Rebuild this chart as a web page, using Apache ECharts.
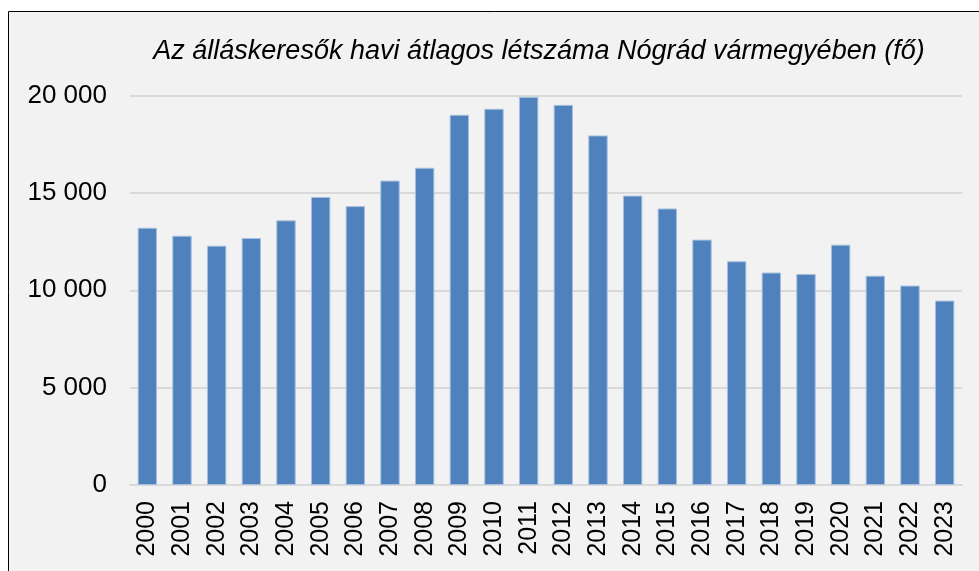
<!DOCTYPE html>
<html>
<head>
<meta charset="utf-8">
<script src="https://cdn.jsdelivr.net/npm/echarts@6/dist/echarts.min.js"></script>
<style>
  html, body { margin: 0; padding: 0; background: #fff; }
  #chart { width: 979px; height: 571px; }
</style>
</head>
<body>
<div id="chart"></div>
<script>
'use strict';

// évek és havi átlagos álláskeresők (fő)
let years = ['2000','2001','2002','2003','2004','2005','2006','2007','2008','2009','2010','2011',
             '2012','2013','2014','2015','2016','2017','2018','2019','2020','2021','2022','2023'];
let jobSeekers = [13210, 12800, 12290, 12680, 13590, 14790, 14320, 15630, 16290, 19010, 19320, 19930,
                  19520, 17950, 14860, 14200, 12600, 11490, 10910, 10840, 12340, 10750, 10240, 9470];
let yTicks = [0, 5000, 10000, 15000, 20000];

let chartTitle = 'Az álláskeresők havi átlagos létszáma Nógrád vármegyében (fő)';

let fmt = function(v){
	return String(v).replace(/\B(?=(\d{3})+(?!\d))/g, ' ');
};

let myChart = echarts.init(document.getElementById('chart'));
let option = {
	backgroundColor: '#ffffff',
	animation: false,
	graphic: [{
		type: 'rect',
		z: -10,
		shape: { x: 8.5, y: 11.5, width: 990, height: 580 },
		style: { fill: '#f2f2f2', stroke: '#000000', lineWidth: 1 }
	}],
	title: {
		text: chartTitle,
		left: 534,
		textAlign: 'center',
		top: 33,
		textStyle: {
			fontFamily: 'Liberation Sans',
			fontStyle: 'italic',
			fontWeight: 'normal',
			fontSize: 27,
			color: '#000000'
		}
	},
	grid: {
		left: 130,
		right: 17,
		top: 95.5,
		bottom: 86,
		containLabel: false
	},
	xAxis: {
		type: 'category',
		data: years,
		axisLine: { show: true, lineStyle: { color: '#d9d9d9', width: 2 } },
		axisTick: { show: false },
		axisLabel: {
			rotate: 90,
			margin: 16,
			fontFamily: 'Liberation Sans',
			fontSize: 25,
			color: '#000000'
		}
	},
	yAxis: {
		type: 'value',
		min: yTicks[0],
		max: yTicks[yTicks.length - 1],
		interval: 5000,
		axisLine: { show: false },
		axisTick: { show: false },
		splitLine: { lineStyle: { color: '#d9d9d9', width: 2 } },
		axisLabel: {
			margin: 23,
			fontFamily: 'Liberation Sans',
			fontSize: 26,
			color: '#000000',
			formatter: fmt
		}
	},
	series: [{
		type: 'bar',
		data: jobSeekers,
		barWidth: '56%',
		itemStyle: {
			color: '#4f81bd',
			borderColor: '#a9c1df',
			borderWidth: 1
		}
	}]
};
myChart.setOption(option);
</script>
</body>
</html>
